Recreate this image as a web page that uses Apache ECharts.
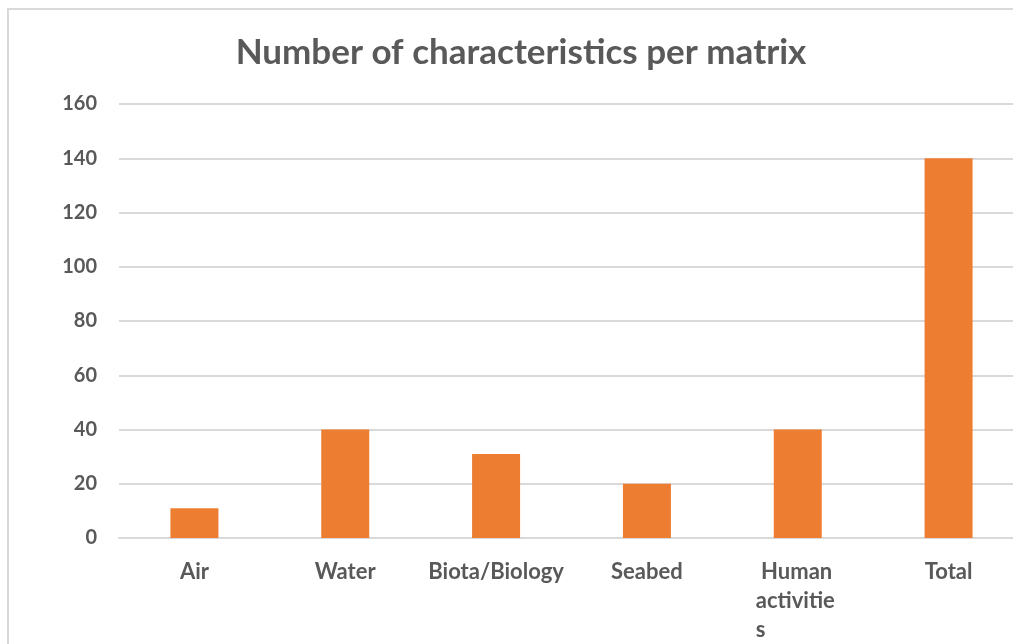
<!DOCTYPE html>
<html>
<head>
<meta charset="utf-8">
<style>
  html, body { margin: 0; padding: 0; background: #ffffff; }
  #chart { width: 1013px; height: 644px; }
</style>
<script src="https://cdn.jsdelivr.net/npm/echarts@6/dist/echarts.min.js"></script>
</head>
<body>
<div id="chart"></div>
<script>
const titleText = 'Number of characteristics per matrix';
const categories = ['Air', 'Water', 'Biota/Biology', 'Seabed', 'Human activities', 'Total'];
const values = [11, 40, 31, 20, 40, 140];
const yTicks = { min: 0, max: 160, interval: 20 };

const FONT = 'Lato';
const TEXT = '#595959';
const GRID = '#d9d9d9';
const BAR = '#ED7D31';

const chart = echarts.init(document.getElementById('chart'), null, { renderer: 'canvas' });
chart.setOption({
  backgroundColor: '#ffffff',
  animation: false,
  graphic: [{
    type: 'rect',
    shape: { x: 8, y: 9, width: 1100, height: 700 },
    style: { fill: 'none', stroke: GRID, lineWidth: 2 },
    silent: true,
    z: -10
  }],
  title: {
    text: titleText,
    left: 516,
    textAlign: 'center',
    top: 30,
    textStyle: { fontFamily: FONT, fontWeight: 'bold', fontSize: 35, color: TEXT }
  },
  grid: { left: 119, width: 905, top: 104, bottom: 106, containLabel: false, outerBoundsMode: 'none' },
  xAxis: {
    type: 'category',
    data: categories,
    axisLine: { show: true, lineStyle: { color: GRID, width: 2 } },
    axisTick: { show: false },
    axisLabel: {
      interval: 0,
      margin: 19,
      color: TEXT,
      fontFamily: FONT,
      fontWeight: 'bold',
      fontSize: 22,
      lineHeight: 29,
      formatter: function (v) {
        if (v === 'Human activities') {
          return '{w| Human}\n{w|activitie}\n{w|s}';
        }
        return v;
      },
      rich: {
        w: { width: 84, align: 'left', color: TEXT, fontFamily: FONT, fontWeight: 'bold', fontSize: 22, lineHeight: 29 }
      }
    }
  },
  yAxis: {
    type: 'value',
    min: yTicks.min,
    max: yTicks.max,
    interval: yTicks.interval,
    axisLine: { show: false },
    axisTick: { show: false },
    splitLine: { show: true, lineStyle: { color: GRID, width: 2 } },
    axisLabel: {
      margin: 22,
      color: TEXT,
      fontFamily: FONT,
      fontWeight: 'bold',
      fontSize: 20
    }
  },
  series: [{
    type: 'bar',
    data: values,
    barWidth: 48,
    itemStyle: { color: BAR },
    z: 3
  }]
});
</script>
</body>
</html>
